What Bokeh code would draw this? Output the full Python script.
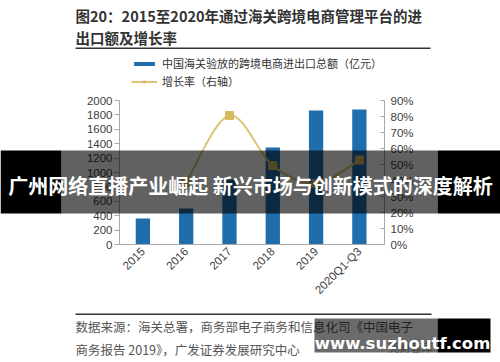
from bokeh.plotting import figure
from bokeh.models import (Range1d, LinearAxis, FixedTicker, NumeralTickFormatter,
                          Label, BoxAnnotation, Legend, LegendItem)
from bokeh.embed import file_html
from bokeh.resources import INLINE

# ---------------- data ----------------
years = ["2015", "2016", "2017", "2018", "2019", "2020Q1-Q3"]
amount = [360, 500, 902, 1347, 1862, 1874]          # 亿元
rate_years_idx = [1, 2, 3, 4, 5]                    # growth from 2016
rate = [0.388, 0.806, 0.493, 0.382, 0.528]
left_ticks = [0, 200, 400, 600, 800, 1000, 1200, 1400, 1600, 1800, 2000]
right_ticks = [0, 0.1, 0.2, 0.3, 0.4, 0.5, 0.6, 0.7, 0.8, 0.9]

title1 = "图20：2015至2020年通过海关跨境电商管理平台的进"
title2 = "出口额及增长率"
legend_bar = "中国海关验放的跨境电商进出口总额（亿元）"
legend_line = "增长率（右轴）"
source1 = "数据来源：海关总署，商务部电子商务和信息化司《中国电子"
source2 = "商务报告 2019》，广发证券发展研究中心"
banner = "广州网络直播产业崛起 新兴市场与创新模式的深度解析"
watermark = "www.suzhoutf.com"
watermark2 = "兜财智库"

BAR = "#1F6DAB"
LINE = "#DCC474"
MARK = "#D6BA5E"
CJK = "Noto Sans CJK SC"
LAT = "Liberation Sans"

# ---------------- layout (page pixels) ----------------
W, H = 500, 362
OX, OY = 0, 0
PL, PR, PT, PB = 119, 384, 100, 244      # plot area edges in page pixels
X0, X1 = -0.54, 5.58                     # category axis extent
Y0, Y1 = 0, 2000
R0, R1 = 0, 0.9

kx = (X1 - X0) / (PR - PL)
ky = (Y1 - Y0) / (PB - PT)
kr = (R1 - R0) / (PB - PT)
xr = Range1d(X0 - (PL - OX) * kx, X1 + (OX + W - PR) * kx)
yr = Range1d(Y0 - (OY + H - PB) * ky, Y1 + (PT - OY) * ky)
rr = Range1d(R0 - (OY + H - PB) * kr, R1 + (PT - OY) * kr)

p = figure(width=W, height=H, output_backend="svg", toolbar_location=None,
           x_range=xr, y_range=yr, min_border=0,
           min_border_left=0, min_border_right=0, min_border_top=0, min_border_bottom=0)
p.outline_line_color = None
p.xgrid.visible = False
p.ygrid.visible = False
p.background_fill_color = "white"
p.border_fill_color = "white"
p.extra_y_ranges = {"rate": rr}

ax_col = "#A8A8A8"
lab_col = "#404040"

xa = p.xaxis[0]
xa.fixed_location = Y0
xa.bounds = (X0, X1)
xa.ticker = FixedTicker(ticks=list(range(len(years))))
xa.major_label_overrides = {i: y for i, y in enumerate(years)}
xa.major_label_orientation = 0.785398
xa.major_tick_out = 0
xa.major_tick_in = 0
xa.minor_tick_out = 0
xa.minor_tick_in = 0
xa.axis_line_color = ax_col
xa.major_label_standoff = 5
xa.major_label_text_font = LAT
xa.major_label_text_font_size = "11.5px"
xa.major_label_text_color = lab_col

ya = p.yaxis[0]
ya.fixed_location = X0
ya.bounds = (Y0, Y1)
ya.ticker = FixedTicker(ticks=left_ticks)
ya.major_tick_out = 5
ya.major_tick_in = 0
ya.minor_tick_out = 0
ya.minor_tick_in = 0
ya.axis_line_color = ax_col
ya.major_tick_line_color = ax_col
ya.major_label_standoff = 2
ya.major_label_text_font = LAT
ya.major_label_text_font_size = "11.5px"
ya.major_label_text_color = lab_col

ra = LinearAxis(y_range_name="rate", ticker=FixedTicker(ticks=right_ticks),
                formatter=NumeralTickFormatter(format="0%"))
ra.fixed_location = X1
ra.bounds = (R0, R1)
ra.major_tick_out = 0
ra.major_tick_in = 4
ra.minor_tick_out = 0
ra.minor_tick_in = 0
ra.axis_line_color = ax_col
ra.major_tick_line_color = ax_col
ra.major_label_standoff = 6
ra.major_label_text_font = LAT
ra.major_label_text_font_size = "11.5px"
ra.major_label_text_color = lab_col
p.add_layout(ra, "right")

# bars
xs = list(range(len(years)))
bars = p.vbar(x=xs, top=amount, width=0.33, fill_color=BAR, line_color=None)

# smooth growth line (Catmull-Rom -> cubic bezier, computed from the data)
px = rate_years_idx
py = rate
n = len(px)
x0s, y0s, x1s, y1s, cx0, cy0, cx1, cy1 = [], [], [], [], [], [], [], []
for i in range(n - 1):
    a = max(i - 1, 0)
    d = min(i + 2, n - 1)
    x0s.append(px[i]); y0s.append(py[i])
    x1s.append(px[i + 1]); y1s.append(py[i + 1])
    cx0.append(px[i] + (px[i + 1] - px[a]) / 6.0)
    cy0.append(py[i] + (py[i + 1] - py[a]) / 6.0)
    cx1.append(px[i + 1] - (px[d] - px[i]) / 6.0)
    cy1.append(py[i + 1] - (py[d] - py[i]) / 6.0)
curve = p.bezier(x0=x0s, y0=y0s, x1=x1s, y1=y1s, cx0=cx0, cy0=cy0, cx1=cx1, cy1=cy1,
                 line_color=LINE, line_width=2, y_range_name="rate")
marks = p.scatter(x=px, y=py, marker="square", size=8, fill_color=MARK,
                  line_color=MARK, y_range_name="rate")


# screen helpers: page pixel -> frame screen units (frame = whole canvas)
def sx(x):
    return x - OX


def sy(y):
    return OY + H - y


legend = Legend(items=[LegendItem(label=legend_bar, renderers=[bars]),
                       LegendItem(label=legend_line, renderers=[curve, marks])],
                location=(sx(131), sy(89)), orientation="vertical",
                glyph_width=26, glyph_height=5, label_height=14, spacing=2,
                label_standoff=5, padding=0, margin=0,
                border_line_alpha=0, background_fill_alpha=0,
                label_text_font=CJK, label_text_font_size="11px",
                label_text_color="#333333")
p.add_layout(legend, "center")


def lab(text, x, y, size, color="#333333", font=CJK, style="normal",
        align="left", baseline="middle", level="annotation", alpha=1.0):
    l = Label(x=sx(x), y=sy(y), x_units="screen", y_units="screen", text=text,
              text_font=font, text_font_size=size, text_color=color,
              text_font_style=style, text_align=align, text_baseline=baseline,
              text_alpha=alpha, level=level)
    p.add_layout(l)
    return l


def box(l, r, t, b, color, alpha=1.0, level="annotation"):
    bx = BoxAnnotation(left=sx(l), right=sx(r), top=sy(t), bottom=sy(b),
                       left_units="screen", right_units="screen",
                       top_units="screen", bottom_units="screen",
                       fill_color=color, fill_alpha=alpha, line_alpha=0, level=level)
    p.add_layout(bx)
    return bx


# titles, rules, source
lab(title1, 75, 15, "14.5px", "#333333", style="bold")
lab(title2, 75, 37, "14.5px", "#333333", style="bold")
box(75, 430, 47, 48.5, "#333333")
box(75, 431, 313, 314.5, "#333333")
lab(source1, 75, 326, "12.5px", "#555555")
lab(source2, 75, 349, "12.5px", "#555555")
lab(watermark2, 388, 346, "11px", "#9a9a9a")

# overlays
box(0, 61, 150, 213, "black", 1.0, "overlay")
box(61, 437, 150, 213, "black", 0.62, "overlay")
box(437, 500, 150, 213, "black", 1.0, "overlay")
lab(banner, 250, 185, "20px", "white", style="bold", align="center", level="overlay")
box(314, 437, 318, 352, "black", 0.58, "overlay")
box(437, 490, 318, 352, "black", 1.0, "overlay")
lab(watermark, 402, 343, "16.5px", "white", font="DejaVu Sans", style="bold",
    align="center", baseline="alphabetic", level="overlay")

open("out.html", "w").write(file_html(p, INLINE))
